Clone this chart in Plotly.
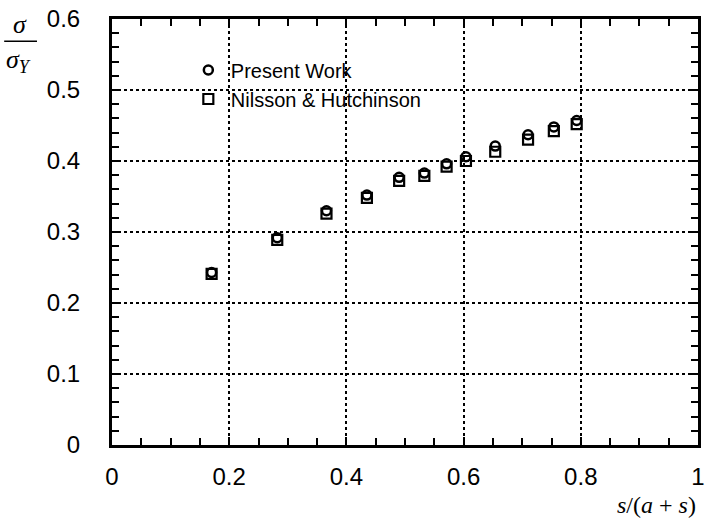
import plotly.graph_objects as go

# Data
x_vals = [0.170, 0.282, 0.366, 0.435, 0.490, 0.533, 0.571, 0.604, 0.654, 0.710, 0.754, 0.793]
present_work = [0.243, 0.292, 0.330, 0.352, 0.377, 0.383, 0.396, 0.406, 0.421, 0.437, 0.448, 0.457]
nilsson_hutchinson = [0.241, 0.289, 0.326, 0.348, 0.372, 0.379, 0.392, 0.400, 0.413, 0.430, 0.442, 0.452]

x_ticks = [0, 0.2, 0.4, 0.6, 0.8, 1]
x_ticklabels = ["0", "0.2", "0.4", "0.6", "0.8", "1"]
y_ticks = [0, 0.1, 0.2, 0.3, 0.4, 0.5, 0.6]
y_ticklabels = ["0", "0.1", "0.2", "0.3", "0.4", "0.5", "0.6"]

fig = go.Figure()
fig.add_trace(go.Scatter(
    x=x_vals, y=present_work, mode="markers", name="Present Work",
    marker=dict(symbol="circle-open", size=9, color="black", line=dict(width=2.5, color="black")),
))
fig.add_trace(go.Scatter(
    x=x_vals, y=nilsson_hutchinson, mode="markers", name="Nilsson & Hutchinson",
    marker=dict(symbol="square-open", size=10, color="black", line=dict(width=2.2, color="black")),
))

axis_common = dict(
    showline=True, linecolor="black", linewidth=3, mirror="allticks",
    ticks="inside", ticklen=8, tickwidth=2, tickcolor="black",
    showgrid=True, gridcolor="black", gridwidth=2, griddash="dot",
    zeroline=False,
    tickfont=dict(family="Liberation Sans, Arial, sans-serif", size=24, color="black"),
)

fig.update_xaxes(
    range=[0, 1], tickvals=x_ticks, ticktext=x_ticklabels,
    minor=dict(dtick=0.05, tick0=0, ticks="inside", ticklen=7, tickwidth=2, tickcolor="black", showgrid=False),
    ticklabelstandoff=8,
    **axis_common,
)
fig.update_yaxes(
    range=[0, 0.6], tickvals=y_ticks, ticktext=y_ticklabels,
    minor=dict(dtick=0.02, tick0=0, ticks="inside", ticklen=7, tickwidth=2, tickcolor="black", showgrid=False),
    ticklabelstandoff=24,
    **axis_common,
)

fig.update_layout(
    width=709, height=522,
    margin=dict(l=112, r=4, t=19, b=77),
    plot_bgcolor="white", paper_bgcolor="white",
    showlegend=True,
    legend=dict(
        x=0.126, y=0.926, xanchor="left", yanchor="top",
        bgcolor="rgba(0,0,0,0)", borderwidth=0,
        font=dict(family="Liberation Sans, Arial, sans-serif", size=20, color="black"),
        tracegroupgap=0, itemwidth=35,
    ),
    annotations=[
        dict(text="<i>s</i>/(<i>a</i> + <i>s</i>)", xref="paper", yref="paper", x=1.0, y=-0.141,
             xanchor="right", yanchor="middle", showarrow=False,
             font=dict(family="Liberation Serif, Times New Roman, serif", size=24, color="black")),
        dict(text="<i>σ</i>", xref="paper", yref="paper",
             x=-0.157, y=0.986, xanchor="center", yanchor="middle", showarrow=False,
             font=dict(family="Liberation Serif, Times New Roman, serif", size=26, color="black")),
        dict(text="<i>σ<sub>Y</sub></i>", xref="paper", yref="paper",
             x=-0.159, y=0.901, xanchor="center", yanchor="middle", showarrow=False,
             font=dict(family="Liberation Serif, Times New Roman, serif", size=26, color="black")),
    ],
    shapes=[
        dict(type="line", xref="paper", yref="paper", x0=-0.184, x1=-0.128, y0=0.948, y1=0.948,
             line=dict(color="black", width=1.5)),
    ],
)

fig.write_html(
    "out.html",
    config={"displayModeBar": False},
    post_script="document.body.style.margin='0';document.body.style.overflow='hidden';",
)
